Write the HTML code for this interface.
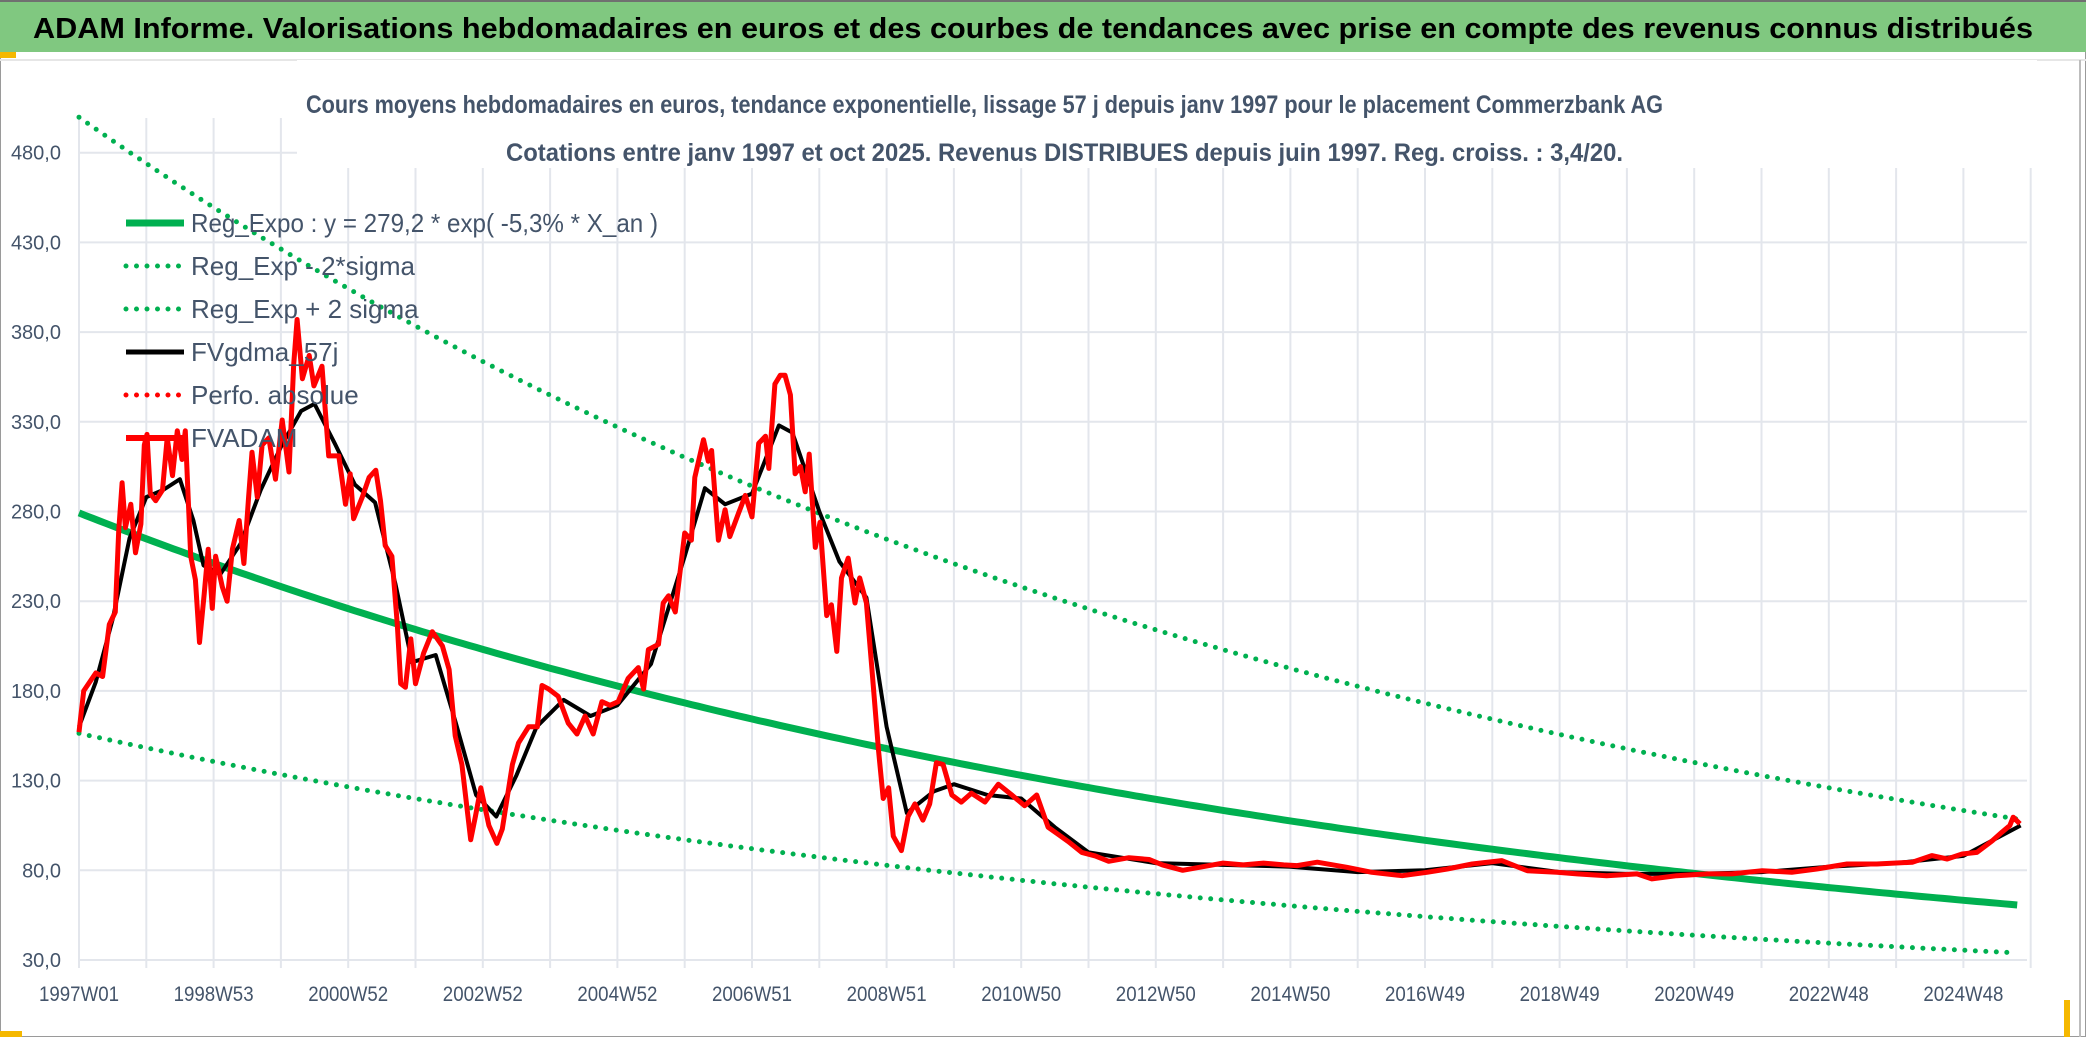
<!DOCTYPE html>
<html><head><meta charset="utf-8"><style>
html,body{margin:0;padding:0;background:#fff}
svg{display:block}
</style></head><body>
<svg id="chart" width="2086" height="1037" viewBox="0 0 2086 1037" xmlns="http://www.w3.org/2000/svg" font-family="'Liberation Sans', sans-serif">
<rect x="0" y="0" width="2086" height="1037" fill="#fff"/>
<rect x="0.5" y="0.5" width="2085" height="1036" fill="none" stroke="#9a9a9a" stroke-width="1"/>
<rect x="0" y="0" width="2086" height="52" fill="#80c880"/>
<line x1="0" y1="1" x2="2086" y2="1" stroke="#707070" stroke-width="2"/>
<rect x="0" y="52" width="16" height="6" fill="#f5b800"/>
<line x1="0" y1="60" x2="2086" y2="60" stroke="#e6e6e6" stroke-width="2"/>
<rect x="0" y="1031" width="22" height="6" fill="#f5b800"/>
<rect x="2064" y="1000" width="6" height="37" fill="#f5b800"/>
<line x1="2080" y1="60" x2="2080" y2="1037" stroke="#bdbdbd" stroke-width="2"/>
<text x="33" y="38" font-size="29" font-weight="bold" fill="#000" textLength="2000" lengthAdjust="spacingAndGlyphs">ADAM Informe. Valorisations hebdomadaires en euros et des courbes de tendances avec prise en compte des revenus connus distribués</text>
<g id="grid"></g>
<rect x="297" y="60" width="1740" height="108" fill="#fff"/>
<text x="306" y="113" font-size="25" font-weight="bold" fill="#44546a" textLength="1357" lengthAdjust="spacingAndGlyphs">Cours moyens hebdomadaires en euros, tendance exponentielle, lissage 57 j depuis janv 1997 pour le placement Commerzbank AG</text>
<text x="506" y="161" font-size="25" font-weight="bold" fill="#44546a" textLength="1117" lengthAdjust="spacingAndGlyphs">Cotations entre janv 1997 et oct 2025. Revenus DISTRIBUES depuis juin 1997. Reg. croiss. : 3,4/20.</text>
<g id="axes"></g>
<g id="series"></g>
<g id="legend"></g>
</svg>
<script>
// ---- data ----
const yTicks = [30, 80, 130, 180, 230, 280, 330, 380, 430, 480];
const xLabels = ["1997W01","1998W53","2000W52","2002W52","2004W52","2006W51","2008W51","2010W50","2012W50","2014W50","2016W49","2018W49","2020W49","2022W48","2024W48"];
const xLabelYears = [0,2,4,6,8,10,12,14,16,18,20,22,24,26,28];
const regParams = [279.2, -0.053];          // a, annual rate
const sigmaFactors = [0.56, 1.79];           // lower, upper band multipliers
const tEnd = [28.85];
const advT = [0,0.07,0.25,0.35,0.45,0.54,0.59,0.64,0.69,0.77,0.84,0.92,0.97,1.01,1.06,1.14,1.24,1.31,1.39,1.46,1.53,1.58,1.66,1.73,1.79,1.86,1.92,1.98,2.03,2.13,2.20,2.28,2.38,2.45,2.52,2.57,2.65,2.72,2.82,2.92,3.02,3.12,3.19,3.24,3.32,3.42,3.49,3.61,3.71,3.86,3.96,4.03,4.08,4.21,4.31,4.41,4.48,4.55,4.65,4.73,4.78,4.85,4.93,5.00,5.12,5.25,5.40,5.50,5.59,5.69,5.82,5.89,5.97,6.09,6.21,6.29,6.44,6.53,6.68,6.81,6.88,6.98,7.12,7.27,7.40,7.52,7.64,7.77,7.89,8.01,8.16,8.31,8.39,8.46,8.61,8.68,8.76,8.86,9.00,9.10,9.15,9.28,9.35,9.40,9.50,9.60,9.67,9.80,9.90,10.0,10.10,10.20,10.25,10.34,10.42,10.49,10.57,10.64,10.72,10.79,10.85,10.94,11.01,11.11,11.18,11.26,11.33,11.43,11.53,11.60,11.70,11.78,11.88,11.95,12.03,12.10,12.22,12.32,12.42,12.54,12.64,12.74,12.84,12.97,13.11,13.26,13.46,13.66,13.86,14.05,14.23,14.40,14.55,14.7,14.9,15.1,15.3,15.6,15.9,16.1,16.4,16.7,17.0,17.3,17.6,17.9,18.10,18.40,18.84,19.21,19.66,20.03,20.33,20.70,21.14,21.52,21.96,22.26,22.70,23.15,23.37,23.74,24.19,24.56,25.01,25.45,25.82,26.27,26.71,27.24,27.53,27.76,27.98,28.20,28.43,28.57,28.69,28.74,28.84];
const advV = [157,180,190,188,217,224,269,296,271,284,257,273,317,323,290,286,292,321,300,325,309,325,255,242,207,234,259,226,255,238,230,259,275,251,288,313,288,317,321,298,331,302,362,387,354,367,350,361,311,311,284,301,276,288,299,303,286,261,255,217,184,182,209,184,201,213,205,192,155,139,97,110,126,105,95,103,139,151,160,160,183,181,177,162,156,166,156,174,172,174,187,193,181,203,206,229,233,224,268,264,299,320,308,314,264,281,266,279,289,277,318,322,304,351,356,356,345,301,305,291,312,260,274,222,228,202,243,254,229,243,229,193,147,120,126,99,91,110,117,108,117,140,139,122,118,123,118,128,122,116,122,104,100,96,90,88,85,87,86,83,80,82,84,83,84,83,82.6,84.5,81.7,78.9,77,78.9,80.7,83.5,85.4,79.8,78.9,78,77,78,75.2,77,78,78,79.8,78.9,80.7,83.5,83.5,84.5,88.2,86.3,89.1,90,96.5,101.2,104.9,109.6,105.9];
const gdmaT = [0,0.25,0.5,0.75,1.0,1.25,1.5,1.7,1.85,2.1,2.4,2.7,3.0,3.3,3.5,3.8,4.1,4.4,4.7,4.95,5.3,5.6,5.9,6.2,6.5,6.8,7.2,7.6,8.0,8.5,9.0,9.3,9.6,10.0,10.4,10.6,11.0,11.3,11.7,12.0,12.3,12.7,13.0,13.5,14.0,14.5,15,16,17,18,19,20,21,22,23,24,25,26,27,28,28.5,28.85];
const gdmaV = [160,185,220,265,288,292,298,275,250,245,262,292,316,336,340,318,295,285,240,196,200,162,122,110,133,160,175,166,172,195,255,293,284,290,328,324,280,252,232,160,112,124,128,122,120,104,90,84,83,82,79,80,84,79,78,78,79,82,84,88,98,105];

// ---- scales ----
const X0 = 79, XW = 67.3, Y30 = 960, YPX = 1.794;
const xs = t => X0 + t * XW;
const ys = v => Y30 - (v - 30) * YPX;
const NS = "http://www.w3.org/2000/svg";
function mk(tag, attrs, parent) {
  const e = document.createElementNS(NS, tag);
  for (const k in attrs) e.setAttribute(k, attrs[k]);
  parent.appendChild(e);
  return e;
}
const grid = document.getElementById('grid');
const axes = document.getElementById('axes');
const series = document.getElementById('series');
const legend = document.getElementById('legend');

for (let i = 0; i <= 29; i++) {
  const l = mk('line', {x1: xs(i), x2: xs(i), y1: 118, y2: 968, stroke: '#e3e6ec', 'stroke-width': 2}, grid);
  
  
}
yTicks.forEach(v => {
  const l = mk('line', {x1: X0, x2: 2027, y1: ys(v), y2: ys(v), stroke: '#e3e6ec', 'stroke-width': 2}, grid);
  
  
  const t = mk('text', {x: 61, y: ys(v) + 7, 'text-anchor': 'end', 'font-size': 20, fill: '#44546a'}, axes);
  t.textContent = v.toFixed(1).replace('.', ',');
  
  
});
xLabels.forEach((s, i) => {
  const t = mk('text', {x: xs(xLabelYears[i]), y: 1001, 'text-anchor': 'middle', 'font-size': 21, fill: '#44546a', textLength: 80, lengthAdjust: 'spacingAndGlyphs'}, axes);
  t.textContent = s;
  
  
});

function pts(T, V) { return T.map((t, i) => xs(t).toFixed(1) + ',' + ys(V[i]).toFixed(1)).join(' '); }
function regPts(f) {
  const T = [], V = [];
  for (let t = 0; t <= tEnd[0] + 1e-9; t += 0.1) { T.push(t); V.push(regParams[0] * f * Math.exp(regParams[1] * t)); }
  return pts(T, V);
}
const up = mk('polyline', {points: regPts(sigmaFactors[1]), fill: 'none', stroke: '#00b050', 'stroke-width': 5, 'stroke-dasharray': '0 10.5', 'stroke-linecap': 'round'}, series);


const lo = mk('polyline', {points: regPts(sigmaFactors[0]), fill: 'none', stroke: '#00b050', 'stroke-width': 5, 'stroke-dasharray': '0 10.5', 'stroke-linecap': 'round'}, series);


const reg = mk('polyline', {points: regPts(1), fill: 'none', stroke: '#00b050', 'stroke-width': 7}, series);


const gd = mk('polyline', {points: pts(gdmaT, gdmaV), fill: 'none', stroke: '#000', 'stroke-width': 4, 'stroke-linejoin': 'round'}, series);


const adam = mk('polyline', {points: pts(advT, advV), fill: 'none', stroke: '#ff0000', 'stroke-width': 5, 'stroke-linejoin': 'round'}, series);



const legItems = [
  ['Reg_Expo : y = 279,2 * exp( -5,3% *  X_an )', '#00b050', 7, null, 467],
  ['Reg_Exp - 2*sigma', '#00b050', 5, '0 10.5', 0],
  ['Reg_Exp + 2 sigma', '#00b050', 5, '0 10.5', 0],
  ['FVgdma_57j', '#000000', 5, null, 0],
  ['Perfo. absolue', '#ff0000', 5, '0 10.5', 0],
  ['FVADAM', '#ff0000', 6, null, 0]
];
legItems.forEach((it, i) => {
  const y = 223 + i * 43;
  const attrs = {x1: 126, x2: 184, y1: y, y2: y, stroke: it[1], 'stroke-width': it[2], 'stroke-linecap': it[3] ? 'round' : 'butt'};
  if (it[3]) attrs['stroke-dasharray'] = it[3];
  const l = mk('line', attrs, legend);
  
  
  const ta = {x: 191, y: y + 9, 'font-size': 26, fill: '#44546a'};
  if (it[4]) { ta.textLength = it[4]; ta.lengthAdjust = 'spacingAndGlyphs'; }
  const t = mk('text', ta, legend);
  t.textContent = it[0];
  
  
});
</script>
</body></html>
